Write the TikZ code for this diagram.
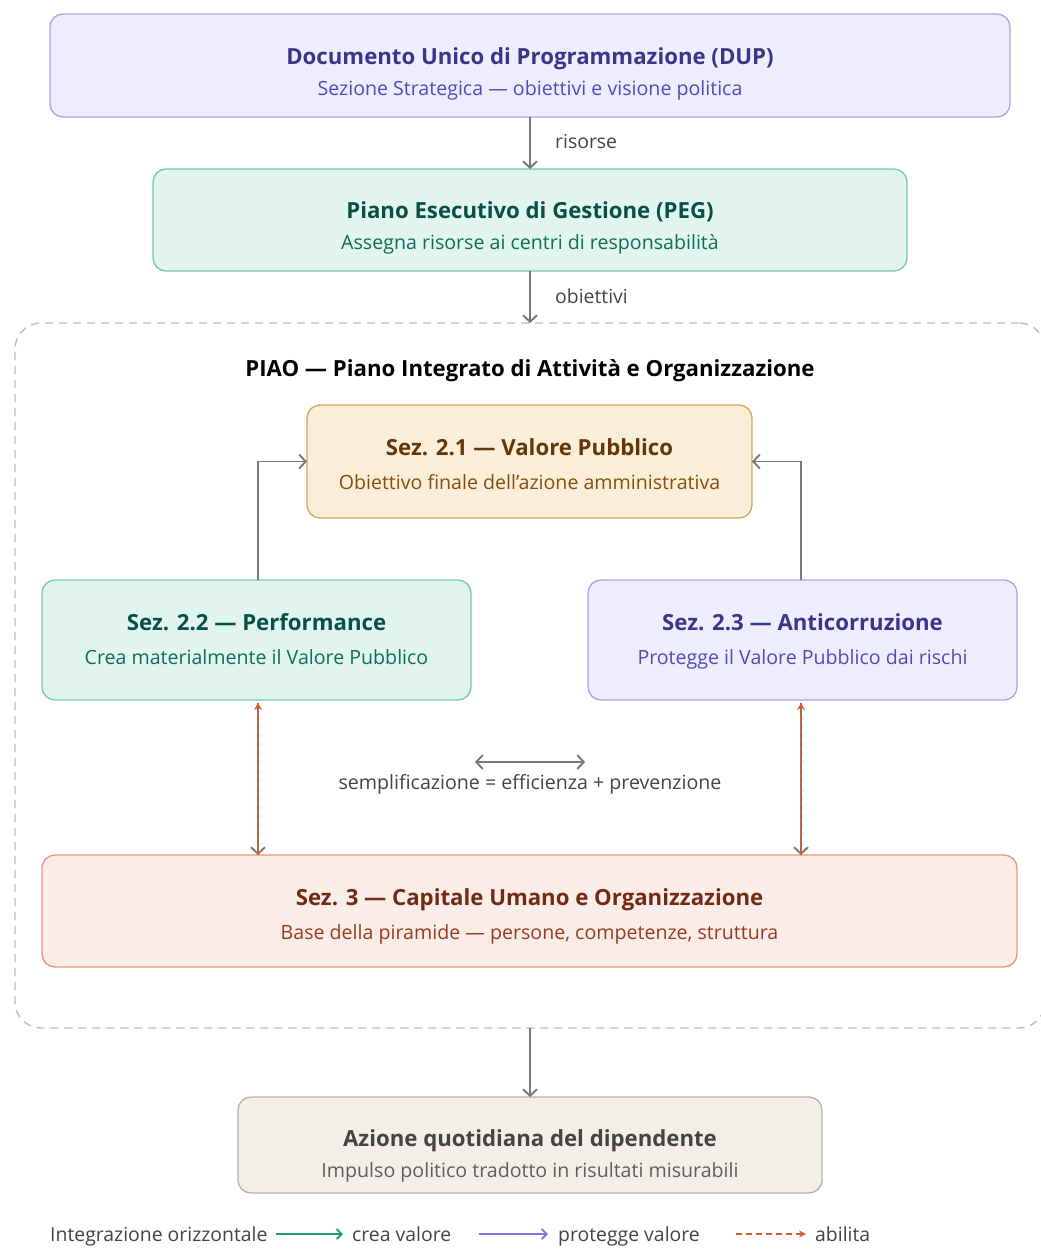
\documentclass[tikz,border=0pt]{standalone}
\usepackage{fontspec}
\setmainfont{Open Sans}
\usetikzlibrary{arrows.meta}

% palette
\definecolor{purFill}{HTML}{EEEDFE}\definecolor{purLine}{HTML}{AAA4E8}
\definecolor{purTtl}{HTML}{3C3489}\definecolor{purSub}{HTML}{534AB7}
\definecolor{tealFill}{HTML}{E1F5EE}\definecolor{tealLine}{HTML}{7CC8AD}
\definecolor{tealTtl}{HTML}{085041}\definecolor{tealSub}{HTML}{0F6E56}
\definecolor{ambFill}{HTML}{FAEEDA}\definecolor{ambLine}{HTML}{D2A65E}
\definecolor{ambTtl}{HTML}{633806}\definecolor{ambSub}{HTML}{854F0B}
\definecolor{corFill}{HTML}{FAECE7}\definecolor{corLine}{HTML}{E8977C}
\definecolor{corTtl}{HTML}{712B13}\definecolor{corSub}{HTML}{993C1D}
\definecolor{gryFill}{HTML}{F1EFE8}\definecolor{gryLine}{HTML}{B4B2A9}
\definecolor{gryTtl}{HTML}{444441}\definecolor{grySub}{HTML}{5F5E5A}
\definecolor{arrGray}{HTML}{7A7974}\definecolor{txtGray}{HTML}{444441}
\definecolor{legGreen}{HTML}{1D9E75}\definecolor{legPurple}{HTML}{7F77DD}
\definecolor{legCoral}{HTML}{D85A30}\definecolor{frameGray}{HTML}{BDBDBD}

\tikzset{
  box/.style={draw, rounded corners=13pt, line width=1.3pt, outer sep=0pt, inner sep=0pt},
  ttl/.style={anchor=base, inner sep=0pt, font=\fontsize{22.2}{22.2}\selectfont\bfseries},
  sub/.style={anchor=base, inner sep=0pt, font=\fontsize{19.6}{19.6}\selectfont},
  lbl/.style={anchor=base west, inner sep=0pt, text=txtGray, font=\fontsize{19.4}{19.4}\selectfont},
  conn/.style={draw=arrGray, line width=1.9pt, -{Straight Barb[length=6.5pt,width=14pt,line width=1.9pt]}},
  enab/.style={draw=legCoral, line width=1.3pt, dash pattern=on 5pt off 4pt, -{Stealth[length=7pt,width=8pt]}},
}

\begin{document}
\begin{tikzpicture}[x=1pt, y=-1pt]
\useasboundingbox (0,0) rectangle (1041,1256);
\fill[white] (0,0) rectangle (1041,1256);

% DUP
\node[box, fill=purFill, draw=purLine, minimum width=960pt, minimum height=103pt] (dup) at (530,65.5) {};
\node[ttl, text=purTtl] (dupT) at (530,64.5) {Documento Unico di Programmazione (DUP)};
\node[sub, text=purSub] (dupS) at (530,95) {Sezione Strategica — obiettivi e visione politica};

% PEG
\node[box, fill=tealFill, draw=tealLine, minimum width=754pt, minimum height=102pt] (peg) at (530,220) {};
\node[ttl, text=tealTtl] (pegT) at (530,218.5) {Piano Esecutivo di Gestione (PEG)};
\node[sub, text=tealSub] (pegS) at (530,249) {Assegna risorse ai centri di responsabilità};

% PIAO container
\node[draw=frameGray, line width=1.4pt, dash pattern=on 8pt off 6pt, rounded corners=26pt,
      minimum width=1030pt, minimum height=705pt, inner sep=0pt, outer sep=0pt] (piao) at (530,675.5) {};
\node[ttl, text=black] (piaoT) at (530,376.5) {PIAO — Piano Integrato di Attività e Organizzazione};

% Sez. 2.1
\node[box, fill=ambFill, draw=ambLine, minimum width=445pt, minimum height=113pt] (s21) at (529.5,461.5) {};
\node[ttl, text=ambTtl] (s21T) at (529.5,455.5) {Sez. 2.1 — Valore Pubblico};
\node[sub, text=ambSub] (s21S) at (529.5,489) {Obiettivo finale dell'azione amministrativa};

% Sez. 2.2
\node[box, fill=tealFill, draw=tealLine, minimum width=429pt, minimum height=120pt] (s22) at (256.5,640) {};
\node[ttl, text=tealTtl] (s22T) at (256.5,630.5) {Sez. 2.2 — Performance};
\node[sub, text=tealSub] (s22S) at (256.5,664) {Crea materialmente il Valore Pubblico};

% Sez. 2.3
\node[box, fill=purFill, draw=purLine, minimum width=429pt, minimum height=120pt] (s23) at (802.5,640) {};
\node[ttl, text=purTtl] (s23T) at (802.5,630.5) {Sez. 2.3 — Anticorruzione};
\node[sub, text=purSub] (s23S) at (802.5,664) {Protegge il Valore Pubblico dai rischi};

% Sez. 3
\node[box, fill=corFill, draw=corLine, minimum width=975pt, minimum height=112pt] (s3) at (529.5,911) {};
\node[ttl, text=corTtl] (s3T) at (529.5,905.5) {Sez. 3 — Capitale Umano e Organizzazione};
\node[sub, text=corSub] (s3S) at (529.5,939) {Base della piramide — persone, competenze, struttura};

% Daily action
\node[box, fill=gryFill, draw=gryLine, minimum width=584pt, minimum height=96pt] (az) at (530,1145) {};
\node[ttl, text=gryTtl] (azT) at (530,1146.5) {Azione quotidiana del dipendente};
\node[sub, text=grySub] (azS) at (530,1177) {Impulso politico tradotto in risultati misurabili};

% vertical flow
\draw[conn] (dup) -- (peg);
\node[lbl] (risL) at (555,148) {risorse};
\draw[conn] (peg) -- (piao);
\node[lbl] (obiL) at (555,303) {obiettivi};
\draw[conn] (piao) -- (az);

% feeding Valore Pubblico
\draw[conn] ([xshift=1.5pt]s22.north) |- (s21.west);
\draw[conn] ([xshift=-1.5pt]s23.north) |- (s21.east);

% enabling links from Sez. 3
\draw[conn, shorten <=3pt] ([xshift=1.5pt]s22.south) -- ([xshift=1.5pt]s22.south |- s3.north);
\draw[enab, shorten >=3pt] ([xshift=1.5pt]s22.south |- s3.north) -- ([xshift=1.5pt]s22.south);
\draw[conn, shorten <=3pt] ([xshift=-1.5pt]s23.south) -- ([xshift=-1.5pt]s23.south |- s3.north);
\draw[enab, shorten >=3pt] ([xshift=-1.5pt]s23.south |- s3.north) -- ([xshift=-1.5pt]s23.south);

% horizontal integration
\coordinate (hL) at (475,762);
\coordinate (hR) at (585,762);
\draw[conn, {Straight Barb[length=6.5pt,width=14pt,line width=1.9pt]}-{Straight Barb[length=6.5pt,width=14pt,line width=1.9pt]}] (hL) -- (hR);
\node[sub, text=txtGray] (semp) at (530,789) {semplificazione = efficienza + prevenzione};

% legend
\node[lbl] (lg1) at (50,1241) {Integrazione orizzontale};
\node[lbl] (lg2) at (352,1241) {crea valore};
\node[lbl] (lg3) at (558,1241) {protegge valore};
\node[lbl] (lg4) at (815,1241) {abilita};
\coordinate (g1) at (276,1234); \coordinate (g2) at (343,1234);
\coordinate (p1) at (479,1234); \coordinate (p2) at (548,1234);
\coordinate (c1) at (736,1234); \coordinate (c2) at (806,1234);
\draw[draw=legGreen, line width=2.2pt, -{Straight Barb[length=5pt,width=10pt,line width=1.8pt]}] (g1) -- (g2);
\draw[draw=legPurple, line width=2.2pt, -{Straight Barb[length=5pt,width=10pt,line width=1.8pt]}] (p1) -- (p2);
\draw[draw=legCoral, line width=1.5pt, dash pattern=on 6pt off 4pt, -{Stealth[length=7pt,width=7pt]}] (c1) -- (c2);
\end{tikzpicture}
\end{document}
